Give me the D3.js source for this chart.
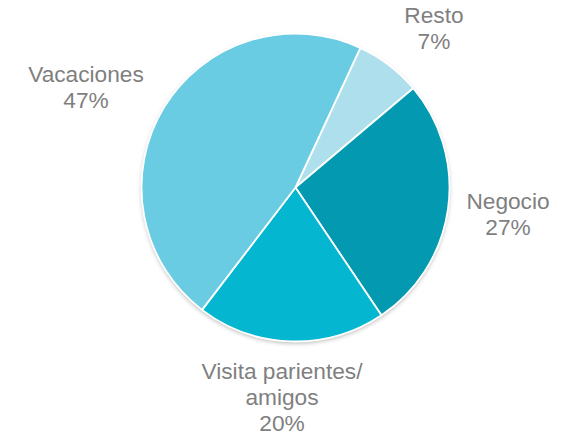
<!DOCTYPE html>
<html>
<head>
<meta charset="utf-8">
<script src="https://cdn.jsdelivr.net/npm/d3@7"></script>
<style>
  html, body { margin: 0; padding: 0; background: #ffffff; }
  svg { display: block; }
</style>
</head>
<body>
<svg id="chart" width="563" height="438"></svg>
<script>
// ---- data ----
const categories = ["Resto", "Negocio", "Visita parientes/ amigos", "Vacaciones"];
const labelLines = [["Resto"], ["Negocio"], ["Visita parientes/", "amigos"], ["Vacaciones"]];
const values = [7, 27, 20, 47];
const colors = ["#ADDFEC", "#0399B1", "#05B6D0", "#69CCE3"];

// ---- layout (not data) ----
const W = 563, H = 438;
const cx = 295.5, cy = 187.5, R = 154;
const startDeg = 24.9;
// label block centres (x) and first baseline (y)
const labelAnchors = [[434, 23], [508, 209], [282, 379], [86, 82]];
const fontSize = 22.7, lineH = 26;

const svg = d3.select("#chart");
const defs = svg.append("defs");
const f = defs.append("filter").attr("id", "shadow")
  .attr("x", "-10%").attr("y", "-10%").attr("width", "120%").attr("height", "125%");
f.append("feDropShadow").attr("dx", 0).attr("dy", 2).attr("stdDeviation", 2.2)
  .attr("flood-color", "#000").attr("flood-opacity", 0.28);

const start = startDeg * Math.PI / 180;
const pie = d3.pie().sort(null).value(d => d)
  .startAngle(start).endAngle(start + 2 * Math.PI);
const arcs = pie(values);
const arc = d3.arc().innerRadius(0).outerRadius(R);

const g = svg.append("g").attr("transform", `translate(${cx},${cy})`);
g.append("circle").attr("r", R).attr("fill", "#fff").attr("filter", "url(#shadow)");
g.selectAll("path.slice").data(arcs).enter().append("path")
  .attr("class", "slice")
  .attr("d", arc)
  .attr("fill", (d, i) => colors[i])
  .attr("stroke", "#ffffff")
  .attr("stroke-width", 1.8)
  .attr("stroke-linejoin", "round");

const color = "#7F7F7F";
labelLines.forEach((lines, i) => {
  const pct = values[i] + "%";
  const all = lines.concat([pct]);
  const t = svg.append("text")
    .attr("text-anchor", "middle")
    .attr("font-family", "Liberation Sans, Arial, sans-serif")
    .attr("font-size", fontSize)
    .attr("fill", color);
  all.forEach((s, j) => {
    t.append("tspan").attr("x", labelAnchors[i][0]).attr("y", labelAnchors[i][1] + j * lineH).text(s);
  });
});
</script>
</body>
</html>
